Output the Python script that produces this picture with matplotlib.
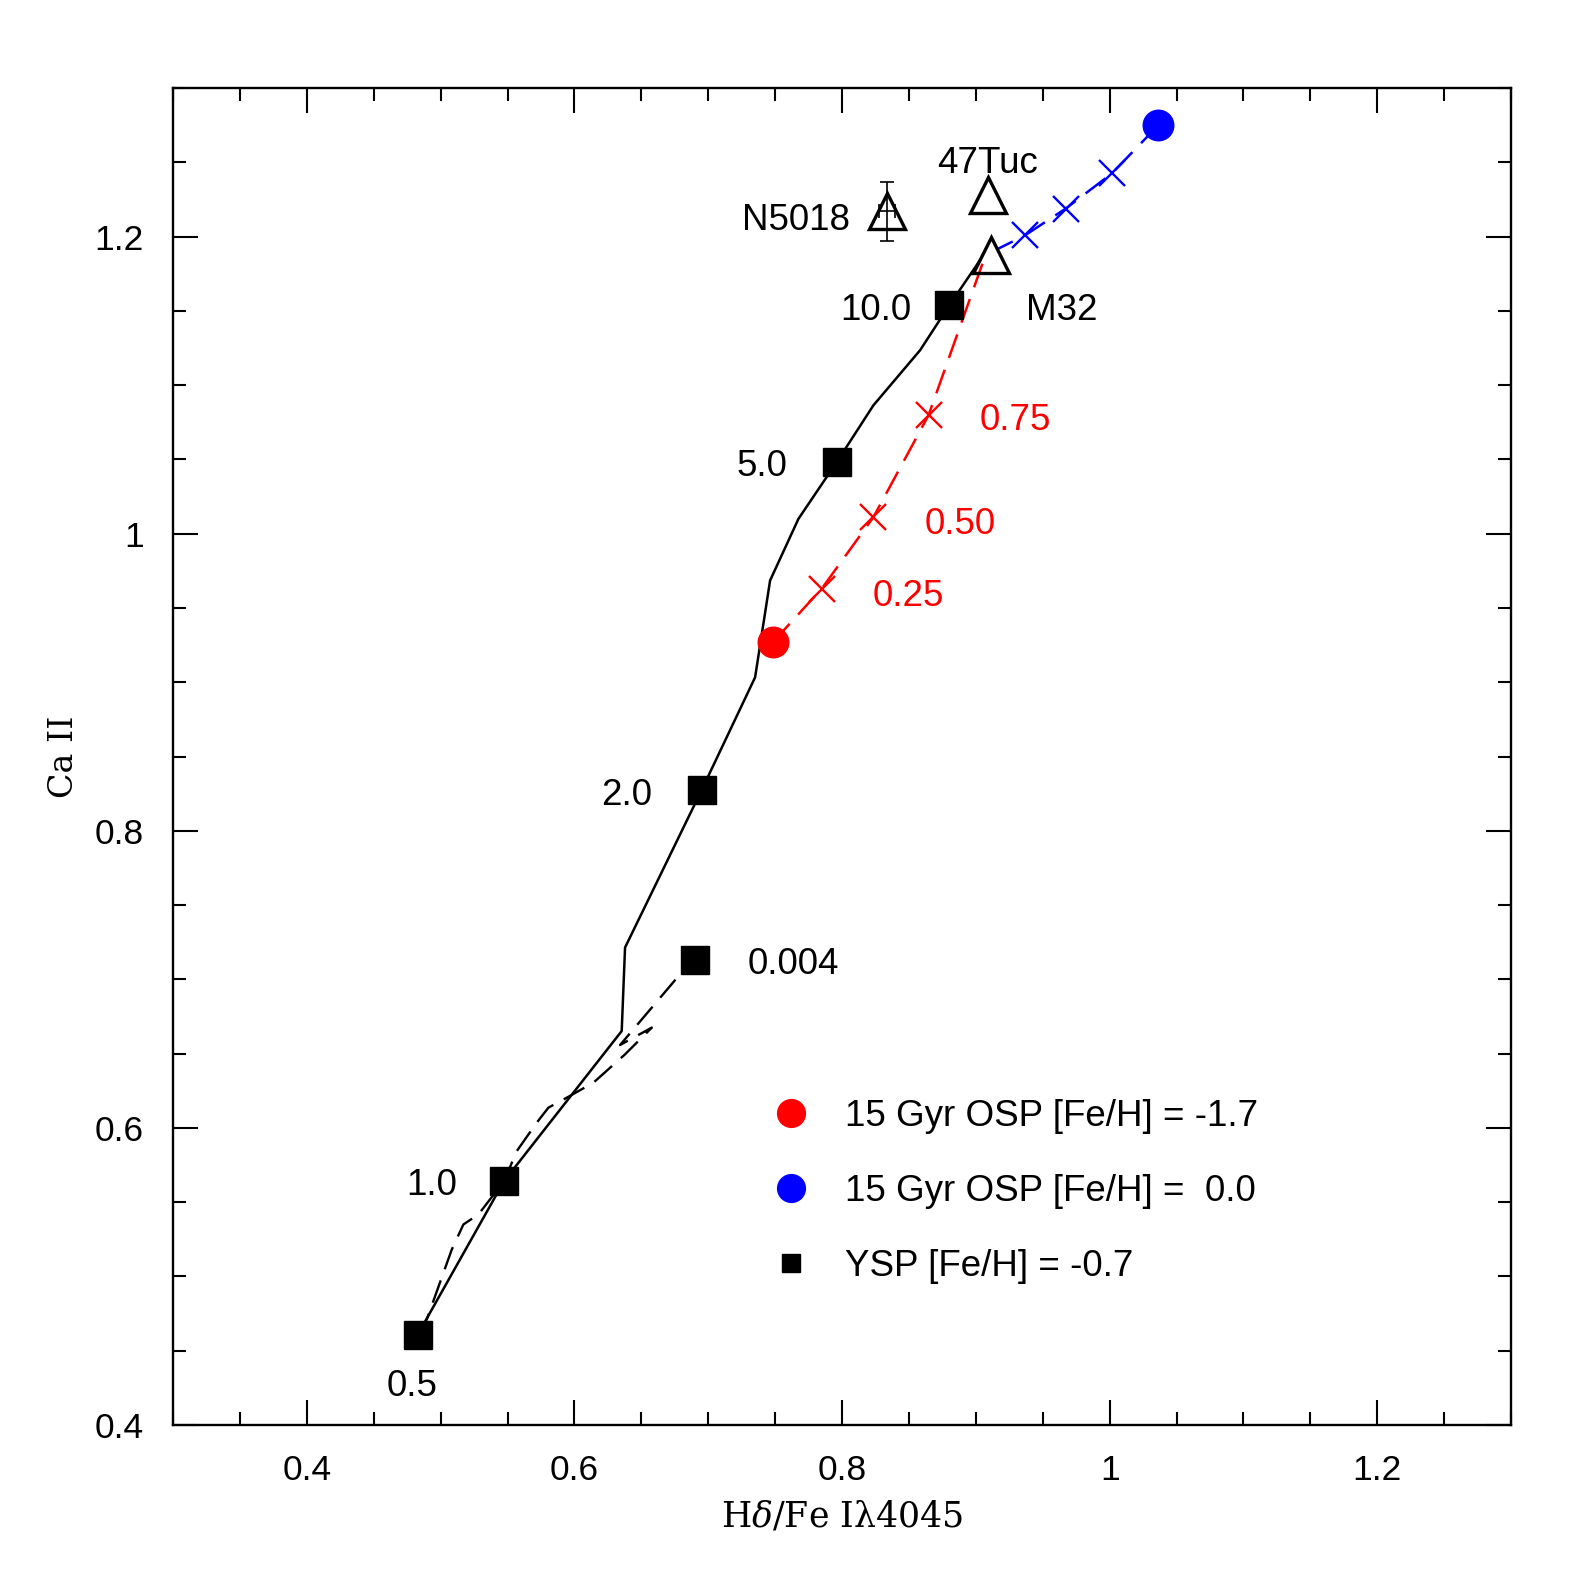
import matplotlib
matplotlib.use("Agg")
import matplotlib.pyplot as plt
from matplotlib.lines import Line2D
from matplotlib.ticker import MultipleLocator

plt.rcParams['font.family'] = ['Liberation Sans', 'DejaVu Sans']
plt.rcParams['mathtext.fontset'] = 'dejavuserif'

# young population (YSP) squares, ages in Gyr
ysp_age = ['0.5', '1.0', '2.0', '5.0', '10.0', '0.004']
ysp_x = [0.4829, 0.5474, 0.6951, 0.7960, 0.8802, 0.6901]
ysp_y = [0.4609, 0.5642, 0.8275, 1.0482, 1.1538, 0.7131]
age_lab_x = [0.4787, 0.4932, 0.6392, 0.7403, 0.8255, 0.7639]
age_lab_y = [0.4260, 0.5610, 0.8240, 1.0452, 1.1500, 0.7103]

# solid and dashed model tracks
solid_x = [0.4829, 0.5474, 0.6353, 0.6378, 0.6951, 0.7350, 0.7462, 0.7674,
           0.7960, 0.8234, 0.8583, 0.8802, 0.9030]
solid_y = [0.4609, 0.5642, 0.6652, 0.7214, 0.8275, 0.9033, 0.9685, 1.0100,
           1.0482, 1.0864, 1.1235, 1.1538, 1.1840]
dash_x = [0.4829, 0.4896, 0.5083, 0.5170, 0.5282, 0.5474, 0.5569, 0.5718,
          0.5805, 0.5942, 0.6141, 0.6378, 0.6578, 0.6341, 0.6789, 0.6901]
dash_y = [0.4609, 0.4710, 0.5181, 0.5350, 0.5417, 0.5642, 0.5844, 0.6035,
          0.6136, 0.6203, 0.6304, 0.6495, 0.6675, 0.6558, 0.7034, 0.7131]

# old population mixing lines
red_x = [0.7482, 0.7847, 0.8234, 0.8646, 0.9050]
red_y = [0.9269, 0.9629, 1.0111, 1.0797, 1.1820]
red_frac = ['0.25', '0.50', '0.75']
red_lab_x = [0.8498, 0.8886, 0.9297]
red_lab_y = [0.9580, 1.0062, 1.0760]

blue_x = [1.0364, 1.0016, 0.9672, 0.9368, 0.9155]
blue_y = [1.2750, 1.2425, 1.2189, 1.2009, 1.1913]

# observed objects
obj_name = ['N5018', '47Tuc', 'M32']
obj_x = [0.8339, 0.9087, 0.9110]
obj_y = [1.2170, 1.2279, 1.1875]
obj_lab_x = [0.7655, 0.9087, 0.9645]
obj_lab_y = [1.2110, 1.2493, 1.1500]
n5018_xerr = 0.006
n5018_yerr = 0.020

fig = plt.figure(figsize=(15.95, 15.95), dpi=100)
ax = fig.add_axes([0.1085, 0.1066, 0.8389, 0.8382])

ax.plot(solid_x, solid_y, color='black', lw=1.8)
ax.plot(dash_x, dash_y, color='black', lw=1.7, dashes=(10, 5))
ax.plot(red_x, red_y, color='red', lw=1.8, dashes=(10, 5))
ax.plot(blue_x, blue_y, color='blue', lw=1.8, dashes=(10, 5))

ax.plot(red_x[1:-1], red_y[1:-1], 'x', color='red', ms=19, mew=1.7)
ax.plot(blue_x[1:-1], blue_y[1:-1], 'x', color='blue', ms=19, mew=1.7)
ax.plot(red_x[0], red_y[0], 'o', color='red', ms=22)
ax.plot(blue_x[0], blue_y[0], 'o', color='blue', ms=22)
ax.plot(ysp_x, ysp_y, 's', color='black', ms=19.5)

ax.errorbar(obj_x[0], obj_y[0], xerr=n5018_xerr, yerr=n5018_yerr, fmt='none',
            ecolor='black', elinewidth=1.2, capsize=4.7, capthick=1.2)
ax.plot(obj_x, obj_y, '^', color='black', mfc='none', ms=26, mew=2.4)

for t, x, y in zip(ysp_age, age_lab_x, age_lab_y):
    ax.text(x, y, t, fontsize=26.5, ha='center', va='center')
for t, x, y in zip(red_frac, red_lab_x, red_lab_y):
    ax.text(x, y, t, fontsize=26.5, ha='center', va='center', color='red')
for t, x, y in zip(obj_name, obj_lab_x, obj_lab_y):
    ax.text(x, y, t, fontsize=26.5, ha='center', va='center')

handles = [
    Line2D([], [], ls='none', marker='o', color='red', ms=20),
    Line2D([], [], ls='none', marker='o', color='blue', ms=20),
    Line2D([], [], ls='none', marker='s', color='black', ms=13),
]
labels = ['15 Gyr OSP [Fe/H] = -1.7', '15 Gyr OSP [Fe/H] =  0.0',
          'YSP [Fe/H] = -0.7']
ax.legend(handles, labels, loc='upper left', bbox_to_anchor=(0.449, 0.2438),
          frameon=False, fontsize=26.5, handlelength=0.906, handletextpad=1.015,
          labelspacing=1.09, borderpad=0, borderaxespad=0)

ax.set_xlim(0.3, 1.3)
ax.set_ylim(0.4, 1.3)
ax.xaxis.set_minor_locator(MultipleLocator(0.05))
ax.yaxis.set_minor_locator(MultipleLocator(0.05))
ax.set_xticks([0.4, 0.6, 0.8, 1.0, 1.2])
ax.set_xticklabels(['0.4', '0.6', '0.8', '1', '1.2'])
ax.set_yticks([0.4, 0.6, 0.8, 1.0, 1.2])
ax.set_yticklabels(['0.4', '0.6', '0.8', '1', '1.2'])
ax.tick_params(which='both', direction='in', top=True, right=True,
               labelsize=25.5, pad=21, width=1.5)
ax.tick_params(which='major', length=18)
ax.tick_params(which='minor', length=9.5)
for s in ax.spines.values():
    s.set_linewidth(1.7)

serif = ['DejaVu Serif', 'Liberation Serif']
ax.set_xlabel('H$\\delta$/Fe I\u03bb4045', fontsize=25, family=serif, va='center')
ax.set_ylabel('Ca II', fontsize=24, family=serif, va='center')
ax.xaxis.set_label_coords(0.5, -0.0685)
ax.yaxis.set_label_coords(-0.0815, 0.5)

fig.savefig('out.png', dpi=100)
